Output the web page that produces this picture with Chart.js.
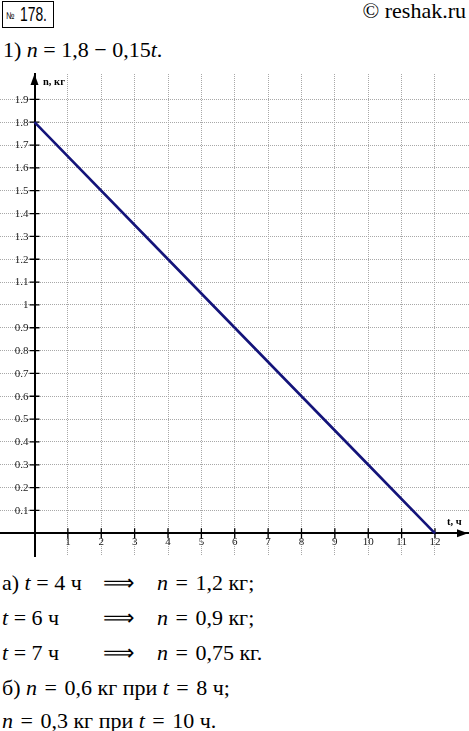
<!DOCTYPE html>
<html>
<head>
<meta charset="UTF-8">
<title>No 178</title>
<script src="https://cdn.jsdelivr.net/npm/chart.js"></script>
<style>
  body { margin: 0; width: 469px; height: 731px; background: #fff; position: relative; overflow: hidden; color: #000; }
  .abs { position: absolute; white-space: pre; line-height: 1; font-family: 'Liberation Serif'; }
  .big { font-size: 22px; }
  .eq { margin: 0 2px; }
  i { font-style: italic; }
  #num { position: absolute; left: 2px; top: 1px; width: 52px; height: 27px; box-sizing: border-box;
         border: 1.5px solid #000; font-family: 'Liberation Sans'; }
  #num .no { position: absolute; left: 3px; top: 9px; font-size: 10px; line-height: 1; transform: scaleX(0.8); transform-origin: left; }
  #num .val { position: absolute; left: 17px; top: 1px; font-size: 21px; line-height: 1; transform: scaleX(0.66); transform-origin: left; }
  #chartBox { position: absolute; left: 0; top: 64px; width: 469px; height: 502px; }
  .axlab { font-weight: bold; font-size: 10.5px; }
</style>
</head>
<body>

<div id="num"><span class="no">№</span><span class="val">178.</span></div>
<div class="abs big" style="right:3px; top:0px;">© reshak.ru</div>
<div class="abs big" style="left:3px; top:39px;">1) <i>n</i> = 1,8 − 0,15<i>t</i>.</div>

<div id="chartBox"><canvas id="chart" width="469" height="502"></canvas></div>
<div class="abs axlab" style="left:43px; top:77px;">n, кг</div>
<div class="abs axlab" style="left:447px; top:517px;">t, ч</div>

<div class="abs big" style="left:2px; top:572px;">а) <i>t</i> = 4 ч</div>
<div class="abs big" style="left:103px; top:572px;">⟹</div>
<div class="abs big" style="left:157px; top:572px;"><i>n</i> <span class="eq">=</span> 1,2 кг;</div>

<div class="abs big" style="left:2px; top:607px;"><i>t</i> = 6 ч</div>
<div class="abs big" style="left:103px; top:607px;">⟹</div>
<div class="abs big" style="left:157px; top:607px;"><i>n</i> <span class="eq">=</span> 0,9 кг;</div>

<div class="abs big" style="left:2px; top:642px;"><i>t</i> = 7 ч</div>
<div class="abs big" style="left:103px; top:642px;">⟹</div>
<div class="abs big" style="left:157px; top:642px;"><i>n</i> <span class="eq">=</span> 0,75 кг.</div>

<div class="abs big" style="left:2px; top:677px;">б) <i>n</i> <span class="eq">=</span> 0,6 кг при <i>t</i> <span class="eq">=</span> 8 ч;</div>
<div class="abs big" style="left:2px; top:710px;"><i>n</i> <span class="eq">=</span> 0,3 кг при <i>t</i> <span class="eq">=</span> 10 ч.</div>

<script>
// values: n = 1.8 - 0.15t
const tValues = [0, 4, 6, 7, 8, 10, 12];
const nValues = [1.8, 1.2, 0.9, 0.75, 0.6, 0.3, 0];
const xTicks = [1, 2, 3, 4, 5, 6, 7, 8, 9, 10, 11, 12];
const yTicks = [0.1, 0.2, 0.3, 0.4, 0.5, 0.6, 0.7, 0.8, 0.9, 1, 1.1, 1.2, 1.3, 1.4, 1.5, 1.6, 1.7, 1.8, 1.9];

const tickFont = { family: 'Liberation Serif', size: 11 };
const yLabel = v => String(Math.round(v * 10) / 10);

// tick marks crossing the axes, y labels left of the axis, arrow heads
const axisDecor = {
  id: 'axisDecor',
  beforeDatasetsDraw(chart) {
    const { ctx, scales: { x, y }, chartArea } = chart;
    const x0 = x.getPixelForValue(0), y0 = y.getPixelForValue(0);
    ctx.save();
    ctx.strokeStyle = '#000';
    ctx.lineWidth = 1.3;
    ctx.beginPath();
    xTicks.forEach(v => { const px = x.getPixelForValue(v); ctx.moveTo(px, y0 - 5); ctx.lineTo(px, y0 + 5); });
    y.ticks.forEach(t => { const py = y.getPixelForValue(t.value); ctx.moveTo(x0 - 5, py); ctx.lineTo(x0 + 5, py); });
    ctx.stroke();

    ctx.fillStyle = '#222';
    ctx.font = '11px "Liberation Serif"';
    ctx.textAlign = 'right';
    ctx.textBaseline = 'middle';
    y.ticks.forEach(t => ctx.fillText(yLabel(t.value), x0 - 6, y.getPixelForValue(t.value) + 0.5));

    ctx.fillStyle = '#000';
    ctx.beginPath();
    ctx.moveTo(x0, chartArea.top);
    ctx.lineTo(x0 - 4, chartArea.top + 11);
    ctx.lineTo(x0 + 4, chartArea.top + 11);
    ctx.fill();
    ctx.beginPath();
    ctx.moveTo(chartArea.right - 1, y0);
    ctx.lineTo(chartArea.right - 12, y0 - 4);
    ctx.lineTo(chartArea.right - 12, y0 + 4);
    ctx.fill();
    ctx.restore();
  }
};

new Chart(document.getElementById('chart'), {
  type: 'line',
  data: {
    datasets: [{
      data: tValues.map((t, i) => ({ x: t, y: nValues[i] })),
      borderColor: '#14147a',
      borderWidth: 2.6,
      pointRadius: 0,
      tension: 0,
      fill: false
    }]
  },
  options: {
    responsive: false,
    animation: false,
    layout: { padding: { top: 10, bottom: 10, left: 0, right: 0 } },
    plugins: { legend: { display: false }, tooltip: { enabled: false } },
    scales: {
      x: {
        type: 'linear',
        position: { y: 0 },
        min: -1.034,
        max: 13.019,
        afterBuildTicks: s => { s.ticks = xTicks.map(v => ({ value: v })); },
        grid: { color: '#a8a8a8', lineWidth: 1, drawTicks: false },
        border: { color: '#000', width: 2, dash: [1, 1] },
        ticks: { padding: 2, autoSkip: false, maxRotation: 0, color: '#222', font: tickFont,
                 callback: v => String(v) }
      },
      y: {
        type: 'linear',
        position: { x: 0 },
        min: -0.0994,
        max: 2.011,
        afterBuildTicks: s => { s.ticks = yTicks.map(v => ({ value: v })); },
        grid: { color: '#a8a8a8', lineWidth: 1, drawTicks: false },
        border: { color: '#000', width: 2, dash: [1, 1] },
        ticks: { display: false }
      }
    }
  },
  plugins: [axisDecor]
});
</script>
</body>
</html>
